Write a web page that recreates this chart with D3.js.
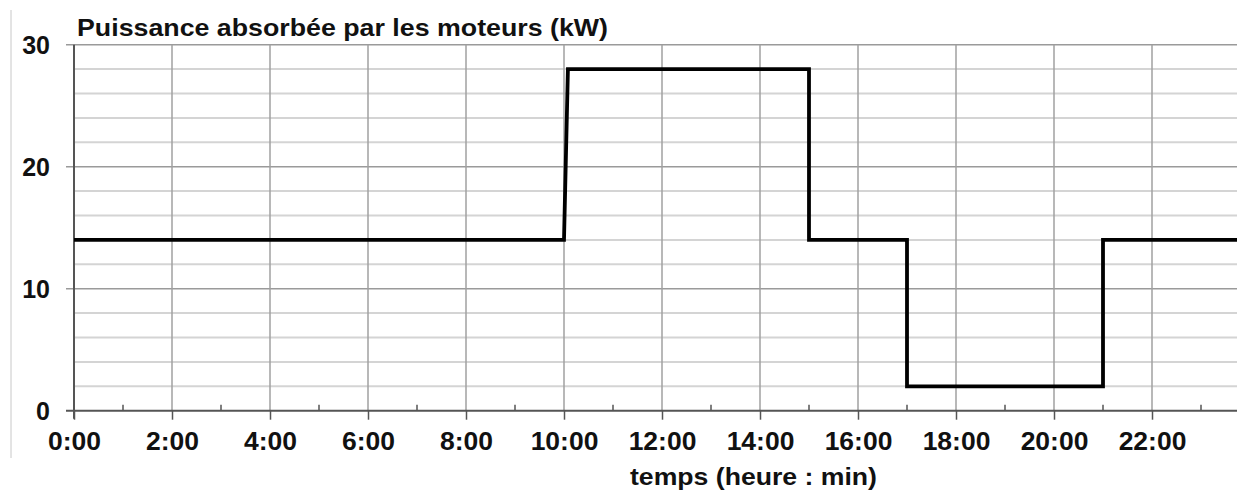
<html>
  <head>
    <script src="https://d3js.org/d3.v7.min.js"></script>
    <style>
      body {margin:0; background:white;}
      text {font-family: "Liberation Sans", Arial, sans-serif; font-weight: bold; fill: #111;}
    </style>
  </head>
  <body>
    <div id="chart1"></div>
    <script>
      // power absorbed by the motors
      var hours = [0, 10, 10.08, 15, 15, 17, 17, 21, 21, 24];
      var powerKw = [14, 14, 28, 28, 14, 14, 2, 2, 14, 14];
      var xTickHours = [0, 2, 4, 6, 8, 10, 12, 14, 16, 18, 20, 22];
      var yTickValues = [0, 10, 20, 30];

      var width = 1237, height = 493;
      var svg = d3.select("#chart1").append("svg")
        .attr("width", width)
        .attr("height", height);

      var x = d3.scaleLinear().domain([0, 24]).range([74, 1250]);
      var y = d3.scaleLinear().domain([0, 30]).range([410.7, 44.7]);

      // thin frame line on the left
      svg.append("line")
        .attr("x1", 11).attr("x2", 11).attr("y1", 10).attr("y2", 458)
        .attr("stroke", "#c8c8c8").attr("stroke-width", 1);

      var plot = svg.append("g");

      // minor horizontal grid every 2 kW
      plot.selectAll(".hminor")
        .data(d3.range(2, 30, 2).filter(function(d){ return d % 10 != 0; }))
        .enter().append("line")
        .attr("x1", x(0)).attr("x2", width)
        .attr("y1", function(d){ return y(d); })
        .attr("y2", function(d){ return y(d); })
        .attr("stroke", "#d4d4d4").attr("stroke-width", 2);

      // major horizontal grid
      plot.selectAll(".hmajor")
        .data([10, 20, 30])
        .enter().append("line")
        .attr("x1", x(0) - 8).attr("x2", width)
        .attr("y1", function(d){ return y(d); })
        .attr("y2", function(d){ return y(d); })
        .attr("stroke", "#9a9a9a").attr("stroke-width", 1.5);

      // vertical grid every 2 hours
      plot.selectAll(".vgrid")
        .data(xTickHours.slice(1))
        .enter().append("line")
        .attr("x1", function(d){ return x(d); })
        .attr("x2", function(d){ return x(d); })
        .attr("y1", y(30)).attr("y2", y(0))
        .attr("stroke", "#a0a0a0").attr("stroke-width", 1.5);

      // x axis with major ticks below, minor ticks above
      var xAxis = d3.axisBottom(x).tickValues(xTickHours).tickSize(9)
        .tickFormat(function(d){ return d + ":00"; });
      var gx = svg.append("g")
        .attr("transform", "translate(0," + y(0) + ")")
        .call(xAxis);
      gx.select(".domain").attr("d", "M" + (x(0) - 8) + ",0H" + width)
        .attr("stroke", "#555").attr("stroke-width", 2);
      gx.selectAll(".tick line").attr("stroke", "#555").attr("stroke-width", 1.5);
      gx.selectAll(".tick text")
        .attr("y", 39)
        .attr("dy", 0)
        .attr("transform", "scale(1.06,1)")
        .style("font-size", "25px")
        .style("font-family", "'Liberation Sans', Arial, sans-serif")
        .style("font-weight", "bold");

      gx.selectAll(".minor")
        .data(d3.range(1, 24, 2))
        .enter().append("line")
        .attr("x1", function(d){ return x(d); })
        .attr("x2", function(d){ return x(d); })
        .attr("y1", -6).attr("y2", 0)
        .attr("stroke", "#555").attr("stroke-width", 1.5);

      // y axis
      var yAxis = d3.axisLeft(y).tickValues(yTickValues).tickSize(0).tickPadding(24);
      var gy = svg.append("g")
        .attr("transform", "translate(" + x(0) + ",0)")
        .call(yAxis);
      gy.select(".domain").attr("d", "M0," + y(30) + "V" + (y(0) + 8))
        .attr("stroke", "#555").attr("stroke-width", 2);
      gy.selectAll(".tick text")
        .attr("dy", "0.36em")
        .style("font-size", "25px")
        .style("font-family", "'Liberation Sans', Arial, sans-serif")
        .style("font-weight", "bold");

      // power curve
      var points = hours.map(function(h, i){ return [h, powerKw[i]]; });
      svg.append("path")
        .datum(points)
        .attr("d", d3.line()
          .x(function(d){ return x(d[0]); })
          .y(function(d){ return y(d[1]); }))
        .attr("fill", "none")
        .attr("stroke", "#000")
        .attr("stroke-width", 3.8)
        .attr("stroke-linejoin", "miter");

      // titles (reference glyphs are a bit wider than Liberation Sans)
      svg.append("text")
        .attr("x", 77).attr("y", 36)
        .attr("textLength", 531)
        .attr("lengthAdjust", "spacingAndGlyphs")
        .style("font-size", "24px")
        .text("Puissance absorbée par les moteurs (kW)");

      svg.append("text")
        .attr("x", 630).attr("y", 485)
        .attr("textLength", 247)
        .attr("lengthAdjust", "spacingAndGlyphs")
        .style("font-size", "24px")
        .text("temps (heure : min)");
    </script>
  </body>
</html>
